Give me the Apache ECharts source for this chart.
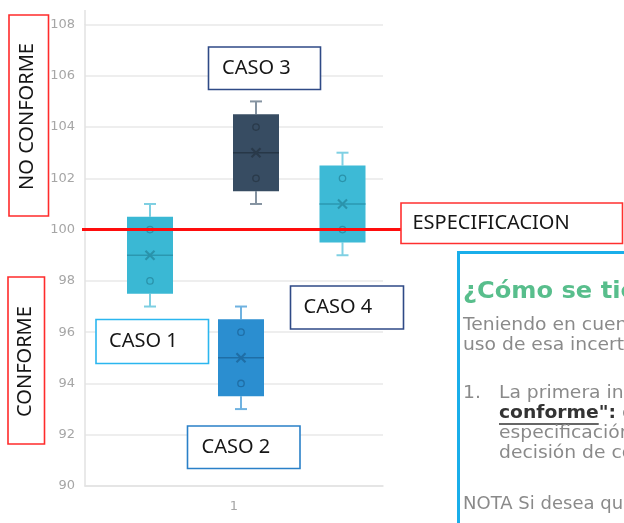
<!DOCTYPE html>
<html><head><meta charset="utf-8">
<script src="https://cdn.jsdelivr.net/npm/echarts@6/dist/echarts.min.js"></script>
<style>html,body{margin:0;padding:0;background:#fff;overflow:hidden}#c{width:624px;height:523px}</style>
</head><body><div id="c"></div>
<script>
// ---- data ----
const categories = ['1'];
const yMin = 90, yMax = 108, yStep = 2;
// [min, Q1, median, Q3, max]
const caso1 = [97, 97.5, 99, 100.5, 101];
const caso2 = [93, 93.5, 95, 96.5, 97];
const caso3 = [101, 101.5, 103, 104.5, 105];
const caso4 = [99, 99.5, 101, 102.5, 103];
const caso1Puntos = [98, 100];
const caso2Puntos = [94, 96];
const caso3Puntos = [102, 104];
const caso4Puntos = [100, 102];
const caso1Media = 99;
const caso2Media = 95;
const caso3Media = 103;
const caso4Media = 101;
const especificacion = 100;

// ---- styles (positions in px relative to category center) ----
const styles = [
  {offset: -84, fill: '#3ab8d4', median: '#2b97b0', whisker: '#7dcfe2', point: '#2a93ab'},
  {offset: 7, fill: '#2b8ed0', median: '#1f6ea6', whisker: '#6fb2e0', point: '#1f6ea6'},
  {offset: 22, fill: '#374c62', median: '#273747', whisker: '#8593a1', point: '#2a3a4a'},
  {offset: 108.5, fill: '#3dbad6', median: '#2b97b0', whisker: '#7fd0e3', point: '#2a93ab'}
];
const boxes = [caso1, caso2, caso3, caso4];
const puntos = [caso1Puntos, caso2Puntos, caso3Puntos, caso4Puntos];
const medias = [caso1Media, caso2Media, caso3Media, caso4Media];
const BOXW = 46, CAP = 6;

function makeRender(k) {
  const st = styles[k];
  return function (params, api) {
    const cat = api.value(0);
    const yy = v => api.coord([cat, v])[1];
    const cx = api.coord([cat, api.value(3)])[0] + st.offset;
    const vMin = yy(api.value(1)), vQ1 = yy(api.value(2)), vMed = yy(api.value(3)),
          vQ3 = yy(api.value(4)), vMax = yy(api.value(5));
    const h = BOXW / 2;
    const ch = [
      {type: 'line', shape: {x1: cx, y1: vQ3, x2: cx, y2: vMax}, style: {stroke: st.whisker, lineWidth: 2}},
      {type: 'line', shape: {x1: cx - CAP, y1: vMax, x2: cx + CAP, y2: vMax}, style: {stroke: st.whisker, lineWidth: 2}},
      {type: 'line', shape: {x1: cx, y1: vQ1, x2: cx, y2: vMin}, style: {stroke: st.whisker, lineWidth: 2}},
      {type: 'line', shape: {x1: cx - CAP, y1: vMin, x2: cx + CAP, y2: vMin}, style: {stroke: st.whisker, lineWidth: 2}},
      {type: 'rect', shape: {x: cx - h, y: vQ3, width: BOXW, height: vQ1 - vQ3}, style: {fill: st.fill}},
      {type: 'line', shape: {x1: cx - h, y1: vMed, x2: cx + h, y2: vMed}, style: {stroke: st.median, lineWidth: 1.5}}
    ];
    puntos[k].forEach(p => {
      ch.push({type: 'circle', shape: {cx: cx, cy: yy(p), r: 3.2}, style: {fill: 'none', stroke: st.point, lineWidth: 1.3}});
    });
    const ym = yy(medias[k]);
    ch.push({type: 'line', shape: {x1: cx - 4.5, y1: ym - 4.5, x2: cx + 4.5, y2: ym + 4.5}, style: {stroke: st.point, lineWidth: 2.2}});
    ch.push({type: 'line', shape: {x1: cx - 4.5, y1: ym + 4.5, x2: cx + 4.5, y2: ym - 4.5}, style: {stroke: st.point, lineWidth: 2.2}});
    return {type: 'group', children: ch};
  };
}

const chart = echarts.init(document.getElementById('c'));
chart.setOption({
  animation: false,
  backgroundColor: '#fff',
  grid: {left: 85, right: 241, top: 24.5, bottom: 37},
  xAxis: {
    type: 'category', data: categories,
    axisLine: {show: true, lineStyle: {color: '#e2e2e2', width: 1.5}},
    axisTick: {show: false},
    axisLabel: {color: '#a6a6a6', fontSize: 13, fontFamily: 'DejaVu Sans', margin: 14}
  },
  yAxis: {
    type: 'value', min: yMin, max: yMax, interval: yStep,
    axisLine: {show: true, lineStyle: {color: '#e2e2e2', width: 1.5}},
    axisTick: {show: false},
    splitLine: {lineStyle: {color: '#e8e8e8', width: 1.5}},
    axisLabel: {color: '#a6a6a6', fontSize: 13, fontFamily: 'DejaVu Sans', margin: 10}
  },
  series: boxes.map((b, k) => ({
    type: 'custom', name: 'CASO ' + (k + 1),
    renderItem: makeRender(k),
    encode: {x: 0, y: [1, 2, 3, 4, 5]},
    data: [[0].concat(b)],
    z: 3
  }))
});

const ySpec = chart.convertToPixel({yAxisIndex: 0}, especificacion);
const yTop = chart.convertToPixel({yAxisIndex: 0}, yMax);

const F = 'Noto Sans';
const labelFont = '20px "' + F + '"';
const labelColor = '#161616';
function labelBox(x, y, w, h, color, text, tx) {
  return [
    {type: 'rect', shape: {x: x, y: y, width: w, height: h}, style: {fill: '#fff', stroke: color, lineWidth: 1.6}, z: 10},
    {type: 'text', x: tx, y: y + h / 2, style: {text: text, font: labelFont, fill: labelColor, verticalAlign: 'middle', align: 'left'}, z: 11}
  ];
}
function vBox(x, y, w, h, text) {
  return [
    {type: 'rect', shape: {x: x, y: y, width: w, height: h}, style: {fill: '#fff', stroke: '#ff2b2b', lineWidth: 1.6}, z: 10},
    {type: 'text', x: x + w / 2 - 1, y: y + h / 2 + 1, rotation: Math.PI / 2, style: {text: text, font: labelFont, fill: labelColor, verticalAlign: 'middle', align: 'center'}, z: 11}
  ];
}

const ctx = document.createElement('canvas').getContext('2d');
const boldFont = 'bold 18px "DejaVu Sans"';
ctx.font = boldFont;
const SX = 1.04;
const wConf = ctx.measureText('conforme').width * SX;

const bodyFont = '18px "DejaVu Sans"';
const gray = '#8a8a8a';
function bodyText(x, y, t, font, sx) {
  return {type: 'text', x: x, y: y, scaleX: sx || SX, style: {text: t, font: font || bodyFont, fill: gray, verticalAlign: 'middle', align: 'left'}, z: 11};
}

const g = [].concat(
  [{type: 'line', shape: {x1: 85, y1: 10, x2: 85, y2: yTop}, style: {stroke: '#e2e2e2', lineWidth: 1.5}, z: 1}],
  [{type: 'line', shape: {x1: 82, y1: ySpec, x2: 401, y2: ySpec}, style: {stroke: '#ff0d0d', lineWidth: 3}, z: 8}],
  vBox(9, 15, 39.5, 201, 'NO CONFORME'),
  vBox(8, 277, 36.5, 167, 'CONFORME'),
  labelBox(208.5, 47, 112, 42.5, '#2f4a86', 'CASO 3', 222),
  labelBox(96, 319.5, 112.5, 44, '#2bb6ef', 'CASO 1', 109),
  labelBox(187.5, 426, 112.5, 42.5, '#2a80c8', 'CASO 2', 201.5),
  labelBox(290.5, 286, 113, 43, '#2f4a86', 'CASO 4', 303.5),
  labelBox(401, 203, 221.5, 40.5, '#ff3030', 'ESPECIFICACION', 412.5),
  [
    {type: 'rect', shape: {x: 458.5, y: 252.5, width: 200, height: 300}, style: {fill: '#fff', stroke: '#19aeea', lineWidth: 3}, z: 10},
    {type: 'text', x: 463, y: 292, scaleX: 1.05, style: {text: '¿Cómo se tiene en cuenta la incertidumbre?', font: 'bold 23px "DejaVu Sans"', fill: '#58be8c', verticalAlign: 'middle', align: 'left'}, z: 11},
    bodyText(463, 325, 'Teniendo en cuenta la incertidumbre de la medición,'),
    bodyText(463, 345, 'uso de esa incertidumbre en la regla de decisión:'),
    bodyText(463, 393, '1.'),
    bodyText(499, 393, 'La primera interpretación es la de "no'),
    {type: 'text', x: 499, y: 413, scaleX: SX, style: {text: '{b|conforme":}{n| cuando el resultado}', verticalAlign: 'middle', align: 'left',
      rich: {b: {font: boldFont, fill: '#333333'}, n: {font: bodyFont, fill: gray}}}, z: 11},
    {type: 'line', shape: {x1: 499, y1: 424, x2: 499 + wConf, y2: 424}, style: {stroke: '#333333', lineWidth: 1.5}, z: 11},
    bodyText(499, 433, 'especificación, el resultado se declara'),
    bodyText(499, 453, 'decisión de conformidad'),
    bodyText(463, 505, 'NOTA Si desea que la regla de decisión', '17px "DejaVu Sans"', 1.06)
  ]
);
chart.setOption({graphic: g});
</script>
</body></html>
